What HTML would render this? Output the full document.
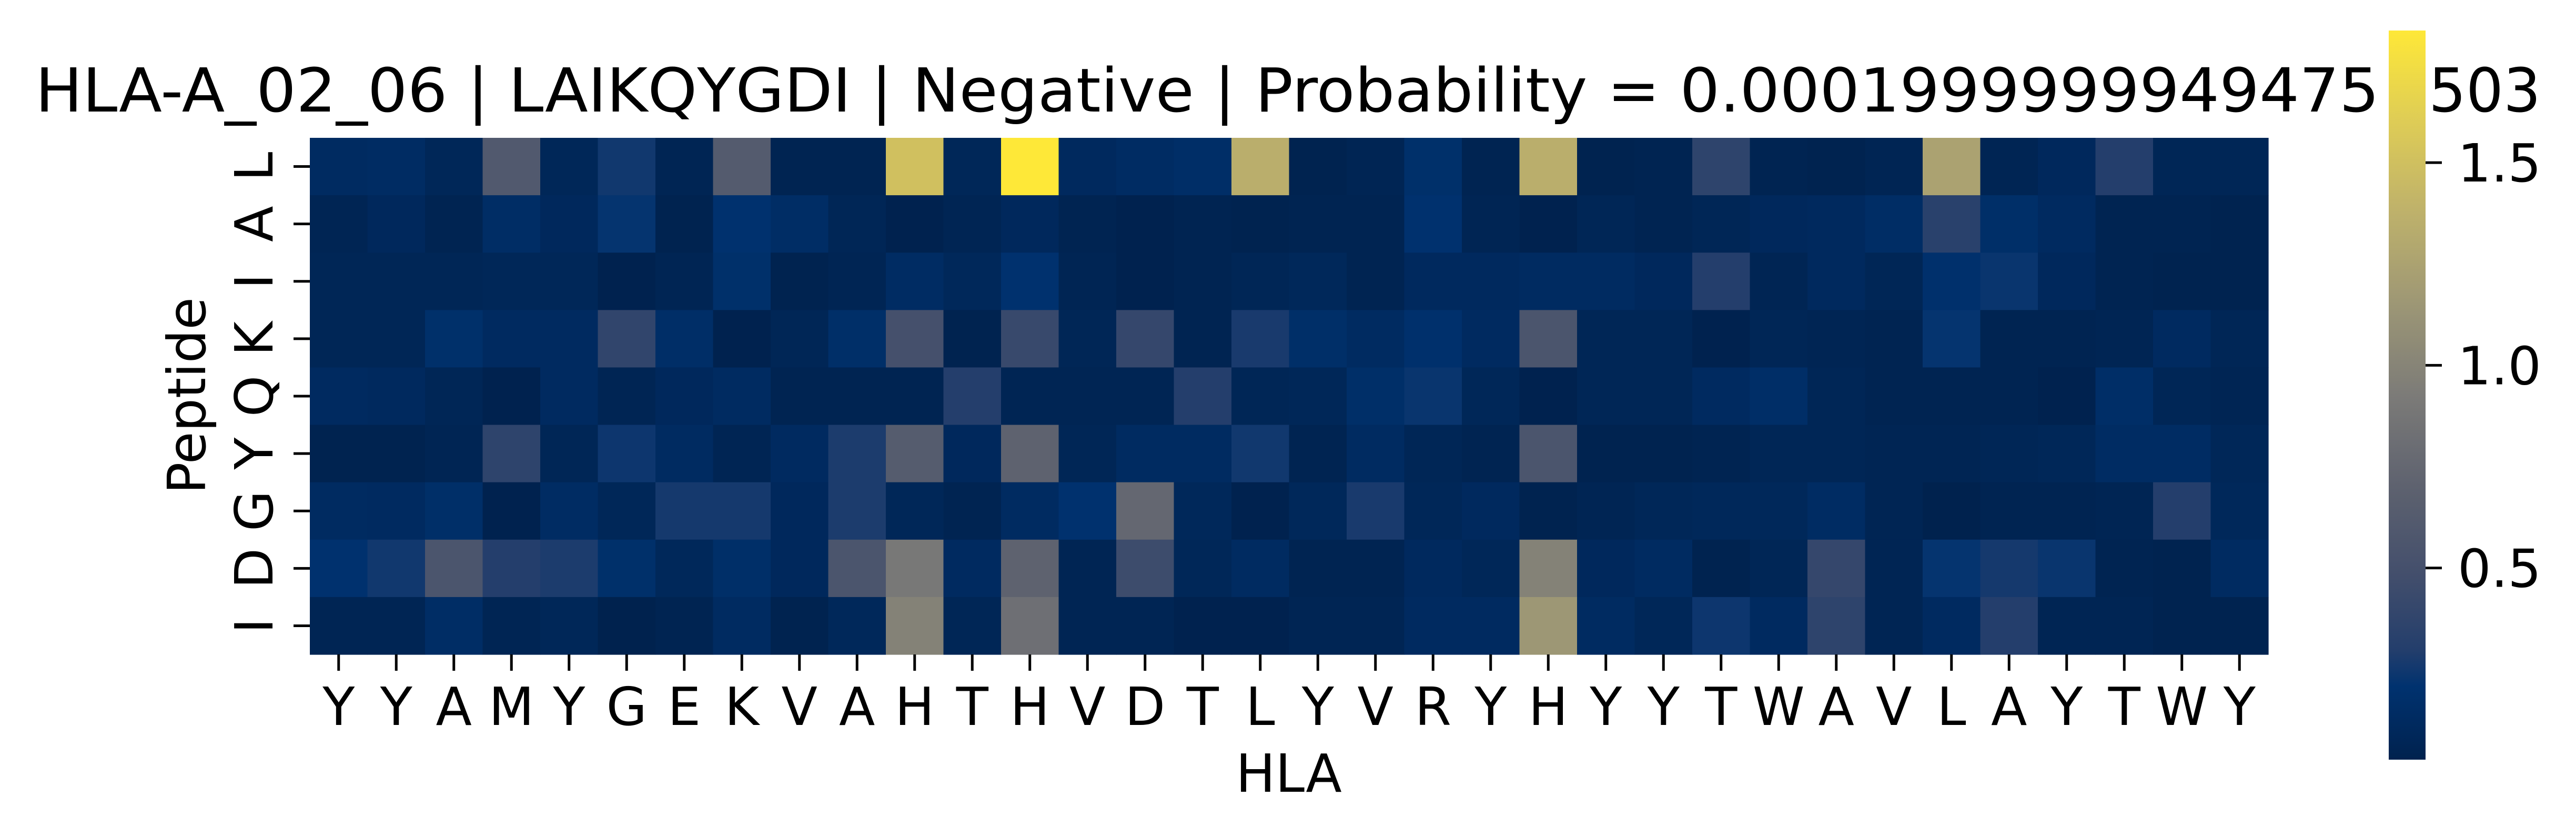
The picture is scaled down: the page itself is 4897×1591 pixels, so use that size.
<!DOCTYPE html>
<html><head><meta charset="utf-8"><style>
html,body{margin:0;padding:0;background:#fff;}
svg{display:block;font-family:"DejaVu Sans","Liberation Sans",sans-serif;}
</style></head><body>
<svg id="chart" xmlns="http://www.w3.org/2000/svg" width="4897" height="1591" viewBox="0 0 4897 1591">
<rect width="4897" height="1591" fill="#fff"/>
<text x="67" y="212" font-size="115" textLength="4456" lengthAdjust="spacingAndGlyphs">HLA-A_02_06 | LAIKQYGDI | Negative | Probability = 0.0001999999949475</text>
<text x="4545" y="212" font-size="115">7</text>
<text x="4617" y="212" font-size="115" textLength="213" lengthAdjust="spacingAndGlyphs">503</text>
<g id="cells"></g>
<g id="axes"></g>
<text x="2450" y="1505" font-size="100" text-anchor="middle">HLA</text>
<text transform="translate(390,752) rotate(-90)" font-size="100" text-anchor="middle">Peptide</text>
<defs><linearGradient id="cgrad" x1="0" y1="1" x2="0" y2="0"></linearGradient></defs>
<rect x="4523" y="58" width="94" height="200" fill="#fff"/>
<rect x="4541" y="58" width="70" height="1386" fill="url(#cgrad)"/>
<g id="cbticks"></g>
</svg>
<script>
const rowLabels = ["L","A","I","K","Q","Y","G","D","I"];
const colLabels = ["Y","Y","A","M","Y","G","E","K","V","A","H","T","H","V","D","T","L","Y","V","R","Y","H","Y","Y","T","W","A","V","L","A","Y","T","W","Y"];
const row0 = [0.13,0.14,0.08,0.60,0.08,0.25,0.06,0.62,0.05,0.05,1.50,0.08,1.83,0.11,0.14,0.16,1.35,0.04,0.06,0.18,0.05,1.35,0.04,0.05,0.36,0.05,0.04,0.06,1.25,0.06,0.10,0.30,0.07,0.07];
const row1 = [0.06,0.10,0.05,0.15,0.10,0.22,0.04,0.20,0.15,0.07,0.03,0.06,0.10,0.05,0.03,0.05,0.04,0.05,0.05,0.20,0.06,0.03,0.07,0.05,0.07,0.10,0.11,0.15,0.33,0.17,0.12,0.05,0.05,0.04];
const row2 = [0.07,0.07,0.07,0.08,0.08,0.03,0.06,0.18,0.04,0.06,0.14,0.09,0.20,0.06,0.03,0.05,0.07,0.09,0.05,0.11,0.11,0.13,0.13,0.10,0.30,0.06,0.11,0.07,0.19,0.23,0.10,0.05,0.04,0.04];
const row3 = [0.07,0.07,0.18,0.12,0.12,0.38,0.16,0.03,0.07,0.17,0.50,0.04,0.42,0.07,0.40,0.05,0.27,0.17,0.13,0.19,0.12,0.55,0.07,0.07,0.03,0.07,0.06,0.05,0.22,0.05,0.05,0.06,0.12,0.07];
const row4 = [0.12,0.11,0.07,0.03,0.12,0.06,0.10,0.13,0.05,0.05,0.05,0.30,0.06,0.06,0.06,0.30,0.07,0.08,0.17,0.23,0.08,0.03,0.07,0.07,0.12,0.16,0.07,0.05,0.05,0.05,0.03,0.16,0.07,0.06];
const row5 = [0.04,0.04,0.06,0.36,0.07,0.24,0.13,0.06,0.12,0.28,0.63,0.10,0.70,0.07,0.13,0.13,0.25,0.05,0.13,0.07,0.05,0.55,0.04,0.04,0.05,0.07,0.07,0.06,0.06,0.07,0.08,0.14,0.14,0.08];
const row6 = [0.13,0.12,0.17,0.03,0.14,0.08,0.26,0.26,0.10,0.28,0.08,0.05,0.13,0.20,0.75,0.09,0.03,0.09,0.27,0.08,0.11,0.04,0.06,0.08,0.09,0.09,0.14,0.06,0.02,0.05,0.05,0.06,0.30,0.09];
const row7 = [0.20,0.25,0.55,0.30,0.28,0.18,0.09,0.17,0.10,0.55,0.90,0.12,0.70,0.06,0.45,0.08,0.13,0.05,0.05,0.11,0.08,0.98,0.10,0.13,0.04,0.07,0.40,0.06,0.22,0.26,0.23,0.05,0.04,0.13];
const row8 = [0.06,0.06,0.15,0.06,0.08,0.02,0.05,0.13,0.04,0.09,0.98,0.07,0.82,0.06,0.06,0.03,0.03,0.06,0.06,0.12,0.12,1.15,0.13,0.08,0.24,0.12,0.36,0.06,0.12,0.30,0.06,0.06,0.04,0.04];
const values = [row0,row1,row2,row3,row4,row5,row6,row7,row8];
const cbTicks = [0.5,1.0,1.5];
const vmin = 0.027, vmax = 1.826;

const NS = "http://www.w3.org/2000/svg";
const X0 = 589, X1 = 4312, Y0 = 262, Y1 = 1244;
const cw = (X1 - X0) / colLabels.length, ch = (Y1 - Y0) / rowLabels.length;
function xPos(i){ return X0 + i * cw; }
function yPos(j){ return Y0 + j * ch; }
const stops = [[0,0,34,78],[0.05,0,42,95],[0.10,0,50,111],[0.15,35,62,108],[0.25,66,78,108],[0.375,94,98,111],[0.5,124,123,120],[0.625,157,151,117],[0.75,190,177,107],[0.875,222,204,86],[1,254,232,56]];
function cividis(t){
  t = Math.max(0, Math.min(1, t));
  for (let k = 1; k < stops.length; k++){
    if (t <= stops[k][0]){
      const a = stops[k-1], b = stops[k], f = (t - a[0]) / (b[0] - a[0]);
      return "rgb(" + [1,2,3].map(q => Math.round(a[q] + (b[q]-a[q])*f)).join(",") + ")";
    }
  }
  return "rgb(254,232,56)";
}
function colorOf(v){ return cividis((v - vmin) / (vmax - vmin)); }

const cells = document.getElementById("cells");
values.forEach((row, j) => row.forEach((v, i) => {
  const r = document.createElementNS(NS, "rect");
  r.setAttribute("x", xPos(i)); r.setAttribute("y", yPos(j));
  r.setAttribute("width", cw + 0.6); r.setAttribute("height", ch + 0.6);
  r.setAttribute("fill", colorOf(v));
  
  
  cells.appendChild(r);
}));

const axes = document.getElementById("axes");
colLabels.forEach((lab, i) => {
  const cx = xPos(i) + cw / 2;
  const t = document.createElementNS(NS, "line");
  t.setAttribute("x1", cx); t.setAttribute("x2", cx); t.setAttribute("y1", Y1); t.setAttribute("y2", Y1 + 31);
  t.setAttribute("stroke", "#000"); t.setAttribute("stroke-width", "5");
  
  
  axes.appendChild(t);
  const tx = document.createElementNS(NS, "text");
  tx.setAttribute("x", cx); tx.setAttribute("y", 1378);
  tx.setAttribute("font-size", "100"); tx.setAttribute("text-anchor", "middle");
  tx.textContent = lab;
  
  
  axes.appendChild(tx);
});
rowLabels.forEach((lab, j) => {
  const cy = yPos(j) + ch / 2;
  const t = document.createElementNS(NS, "line");
  t.setAttribute("x1", X0 - 31); t.setAttribute("x2", X0); t.setAttribute("y1", cy); t.setAttribute("y2", cy);
  t.setAttribute("stroke", "#000"); t.setAttribute("stroke-width", "5");
  
  
  axes.appendChild(t);
  const tx = document.createElementNS(NS, "text");
  tx.setAttribute("transform", "translate(518," + cy + ") rotate(-90)");
  tx.setAttribute("font-size", "100"); tx.setAttribute("text-anchor", "middle");
  tx.textContent = lab;
  
  
  axes.appendChild(tx);
});

const grad = document.getElementById("cgrad");
for (let k = 0; k <= 40; k++){
  const s = document.createElementNS(NS, "stop");
  s.setAttribute("offset", (k/40));
  s.setAttribute("stop-color", cividis(k/40));
  grad.appendChild(s);
}
const CB_Y0 = 58, CB_Y1 = 1444;
function cbY(v){ return CB_Y1 - (v - vmin) / (vmax - vmin) * (CB_Y1 - CB_Y0); }
const cbg = document.getElementById("cbticks");
cbTicks.forEach(v => {
  const y = cbY(v);
  const t = document.createElementNS(NS, "line");
  t.setAttribute("x1", 4611); t.setAttribute("x2", 4642); t.setAttribute("y1", y); t.setAttribute("y2", y);
  t.setAttribute("stroke", "#000"); t.setAttribute("stroke-width", "5");
  
  
  cbg.appendChild(t);
  const tx = document.createElementNS(NS, "text");
  tx.setAttribute("x", 4672); tx.setAttribute("y", y + 36);
  tx.setAttribute("font-size", "100");
  tx.textContent = v.toFixed(1);
  
  
  cbg.appendChild(tx);
});
</script>
</body></html>
